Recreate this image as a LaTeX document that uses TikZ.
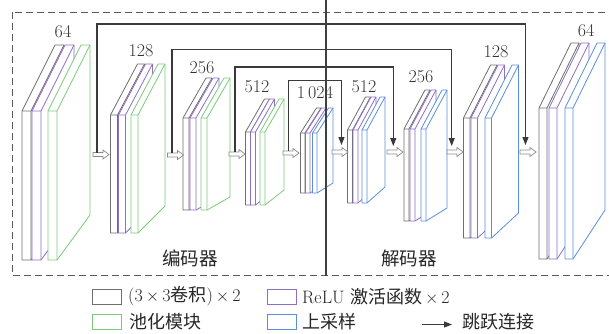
\documentclass[tikz,border=0pt]{standalone}
\usepackage{fontspec}
\newfontfamily\cjk{Noto Sans CJK SC}
\usetikzlibrary{arrows.meta}
\definecolor{cgray}{HTML}{6E6E6E}
\definecolor{cpurple}{HTML}{8F6DC9}
\definecolor{cgreen}{HTML}{7ACC7A}
\definecolor{cblue}{HTML}{5A8FDC}
\definecolor{cline}{HTML}{3A3A3A}
\tikzset{
  slabline/.style={line width=0.8pt, line join=round},
  harrow/.style={draw=cgray!80, fill=white, line width=0.7pt, line join=miter},
  skipline/.style={draw=cline, line width=1.1pt, -{Triangle[length=8pt,width=6pt]}},
  numlabel/.style={font=\fontsize{18}{21}\selectfont, text=black!80, inner sep=0pt},
  cnlabel/.style={font=\fontsize{18.5}{22}\cjk, text=black!85, inner sep=0pt},
  legtext/.style={font=\fontsize{18}{22}\selectfont, text=black!85, inner sep=0pt, anchor=west},
  legbox/.style={line width=1pt},
}
% x y w h dx dyt dyb color
\newcommand\slab[8]{%
  \filldraw[slabline, draw=#8, fill=white]
    (#1,{#2+#4}) -- (#1,#2) -- ({#1+#5},{#2-#6}) -- ({#1+#3+#5},{#2-#6})
    -- ({#1+#3+#5},{#2+#4-#7}) -- ({#1+#3},{#2+#4}) -- cycle;
  \draw[slabline, draw=#8] (#1,#2) -- ({#1+#3},#2) -- ({#1+#3+#5},{#2-#6})
    ({#1+#3},#2) -- ({#1+#3},{#2+#4});}
% xg xp xc w y h dx dyt dyb
\newcommand\blk[9]{%
  \slab{#1}{#5}{#4}{#6}{#7}{#8}{#9}{cgray}%
  \slab{#2}{#5}{#4}{#6}{#7}{#8}{#9}{cpurple}%
  \slab{#3}{#5}{#4}{#6}{#7}{#8}{#9}{\thirdcol}}
\newcommand\hollowarrow[2]{%
  \filldraw[harrow] (#1,{#2-2}) -- ({#1+10},{#2-2}) -- ({#1+10},{#2-4.5})
    -- ({#1+16},#2) -- ({#1+10},{#2+4.5}) -- ({#1+10},{#2+2}) -- (#1,{#2+2}) -- cycle;}
\begin{document}
\begin{tikzpicture}[x=1pt,y=-1pt]
\useasboundingbox (0,0) rectangle (609,333);
% dashed frame
\draw[draw=black!65, line width=1pt, dash pattern=on 7pt off 4pt] (12,12) rectangle (612,275);
% encoder blocks
\def\thirdcol{cgreen}
\blk{22}{32}{48}{9}{111}{149}{33}{66}{45}
\blk{110.5}{118.5}{131}{7}{115}{118}{27}{51}{27}
\blk{183}{190}{201}{6}{118}{92}{23}{40}{13}
\blk{245.5}{250.5}{260}{5}{132}{73}{19}{33}{15}
\def\thirdcol{cblue}
\blk{300.5}{305.5}{312.5}{4.5}{133}{60}{16}{25}{10}
% decoder blocks
\blk{347.5}{353}{362}{5}{130}{73}{18}{33}{16}
\blk{404}{410}{421}{5}{129}{92}{21}{39}{13}
\blk{463.5}{471}{485}{6.5}{118}{120}{27}{53}{25}
\blk{539}{549}{565}{8}{108}{151}{32}{65}{49}
% hollow arrows
\hollowarrow{93}{154.5}
\hollowarrow{167.5}{155}
\hollowarrow{229}{154}
\hollowarrow{283}{153}
\hollowarrow{332}{152}
\hollowarrow{387}{152}
\hollowarrow{447}{152}
\hollowarrow{520}{152}
% skip connections
\coordinate (s1a) at (97,152.5);   \coordinate (s1c) at (97,24);    \coordinate (s1b) at (525.5,145);
\coordinate (s2a) at (172,153);    \coordinate (s2c) at (172,49.5); \coordinate (s2b) at (451.7,146);
\coordinate (s3a) at (235,152);    \coordinate (s3c) at (235,67);   \coordinate (s3b) at (393.3,146);
\coordinate (s4a) at (288.7,151);  \coordinate (s4c) at (288.7,80.5); \coordinate (s4b) at (341.5,145);
\draw[skipline] (s1a) -- (s1c) -| (s1b);
\draw[skipline] (s2a) -- (s2c) -| (s2b);
\draw[skipline] (s3a) -- (s3c) -| (s3b);
\draw[skipline] (s4a) -- (s4c) -| (s4b);
% channel labels
\node[numlabel] (l1) at (63,32) {64};
\node[numlabel] (l2) at (141,51) {128};
\node[numlabel] (l3) at (202,68) {256};
\node[numlabel] (l4) at (257,87) {512};
\node[numlabel] (l5) at (315,93) {1\,024};
\node[numlabel] (l6) at (364,87) {512};
\node[numlabel] (l7) at (421,77) {256};
\node[numlabel] (l8) at (496,52) {128};
\node[numlabel] (l9) at (586,31) {64};
% section labels
\node[cnlabel] (enc) at (190,258) {编码器};
\node[cnlabel] (dec) at (409,258) {解码器};
% divider
\coordinate (vtop) at (326,0); \coordinate (vbot) at (326,276);
\draw[draw=black!75, line width=1.1pt] (vtop) -- (vbot);
% legend
\draw[legbox, cgray]   (92,289) rectangle (121,304);
\draw[legbox, cpurple] (267,289) rectangle (296,304);
\draw[legbox, cgreen]  (92,314) rectangle (121,329);
\draw[legbox, cblue]   (267,314) rectangle (296,329);
\node[legtext] (t1) at (128,296.5) {(3\,$\times$\,3{\cjk 卷积})\,$\times$\,2};
\node[legtext] (t2) at (302,296.5) {ReLU {\cjk 激活函数}\,$\times$\,2};
\node[legtext] (t3) at (129,321.5) {\cjk 池化模块};
\node[legtext] (t4) at (302,321.5) {\cjk 上采样};
\coordinate (la) at (422,324.5); \coordinate (lb) at (452,324.5);
\draw[skipline] (la) -- (lb);
\node[legtext] (t5) at (462,322) {\cjk 跳跃连接};
\end{tikzpicture}
\end{document}
